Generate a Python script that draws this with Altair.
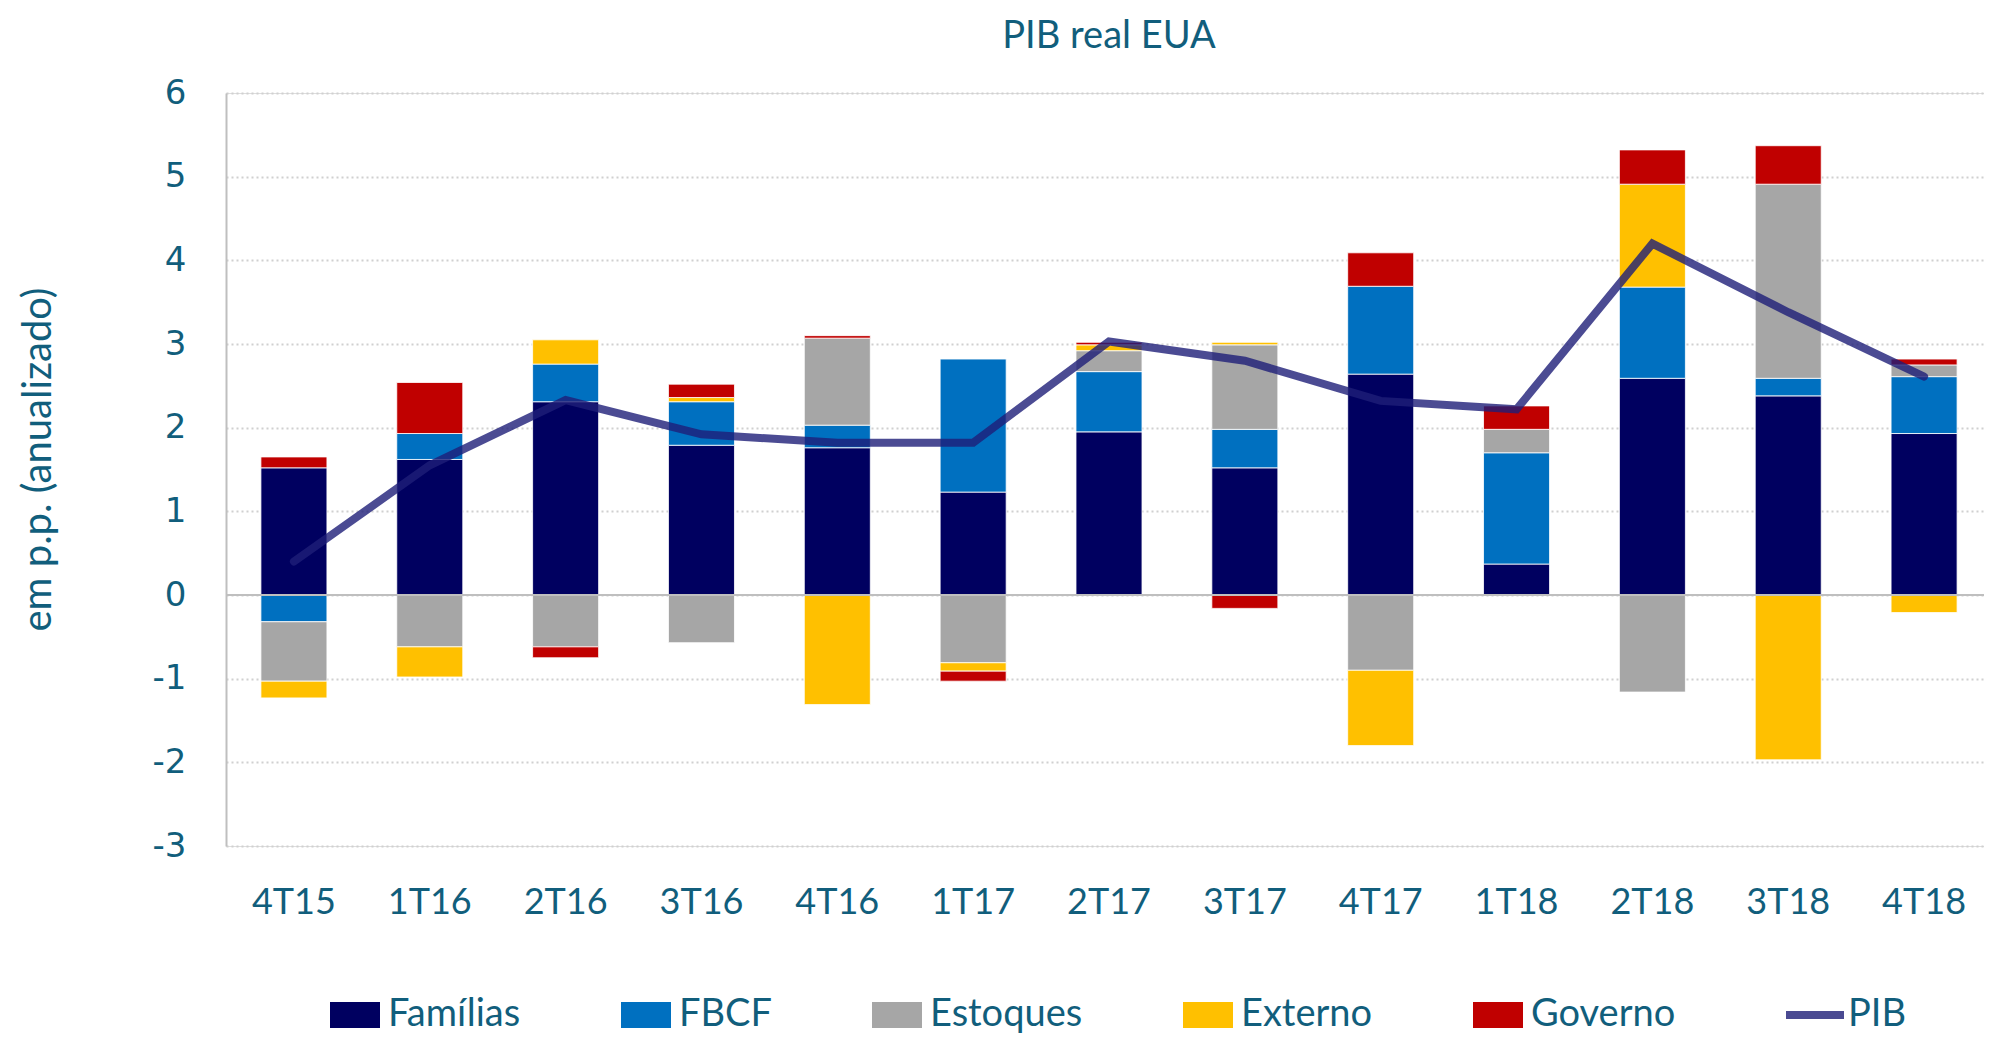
import altair as alt
import pandas as pd

trimestres = ["4T15", "1T16", "2T16", "3T16", "4T16", "1T17", "2T17",
              "3T17", "4T17", "1T18", "2T18", "3T18", "4T18"]
familias = [1.52, 1.62, 2.31, 1.79, 1.76, 1.23, 1.95, 1.52, 2.64, 0.37, 2.59, 2.38, 1.93]
fbcf = [-0.32, 0.31, 0.45, 0.52, 0.27, 1.59, 0.72, 0.46, 1.05, 1.33, 1.09, 0.21, 0.68]
estoques = [-0.71, -0.62, -0.62, -0.57, 1.04, -0.81, 0.25, 1.01, -0.90, 0.28, -1.16, 2.32, 0.14]
externo = [-0.20, -0.36, 0.29, 0.05, -1.31, -0.10, 0.07, 0.03, -0.90, 0.00, 1.23, -1.97, -0.21]
governo = [0.13, 0.61, -0.13, 0.16, 0.03, -0.12, 0.03, -0.16, 0.40, 0.28, 0.41, 0.46, 0.07]
pib = [0.40, 1.55, 2.33, 1.92, 1.82, 1.82, 3.03, 2.80, 2.32, 2.22, 4.20, 3.38, 2.61]

series = ["Famílias", "FBCF", "Estoques", "Externo", "Governo"]
cores = ["#000060", "#0070C0", "#A6A6A6", "#FFC000", "#C00000"]
cor_pib = "#1E1E78"

TEAL = "#115E7C"

rows = []
for k, (nome, vals) in enumerate(zip(series, [familias, fbcf, estoques, externo, governo])):
    for t, v in zip(trimestres, vals):
        if v != 0:
            rows.append({"tri": t, "serie": nome, "valor": v, "ordem": k})
df_bar = pd.DataFrame(rows)
df_pib = pd.DataFrame({"tri": trimestres, "pib": pib, "serie": ["PIB"] * len(trimestres)})
df_zero = pd.DataFrame({"y": [0]})

xenc = alt.X("tri:N", sort=trimestres,
             scale=alt.Scale(paddingInner=0.514, paddingOuter=0.257),
             axis=alt.Axis(title=None, domain=False, ticks=False, labelAngle=0,
                           labelFont="Lato", labelFontSize=36, labelColor=TEAL,
                           labelPadding=39, grid=False))
yscale = alt.Scale(domain=[-3, 6], nice=False, zero=False)

bars = alt.Chart(df_bar).mark_bar(stroke="#ffffff", strokeWidth=0.8).encode(
    x=xenc,
    y=alt.Y("valor:Q", stack="zero", scale=yscale,
            axis=alt.Axis(title="em p.p. (anualizado)", values=list(range(-3, 7)),
                          labelExpr="datum.value + ''",
                          labelFont="DejaVu Sans", labelFontSize=34, labelColor=TEAL,
                          labelPadding=40, ticks=False,
                          domain=True, domainColor="#BFBFBF", domainWidth=2,
                          grid=True, gridColor="#D0D0D0", gridWidth=2, gridDash=[2, 3],
                          titleFont="Lato", titleFontSize=40, titleFontWeight="normal",
                          titleColor=TEAL, titleAngle=-90, titleX=-188, titleY=366,
                          titleAlign="center", titleBaseline="middle")),
    color=alt.Color("serie:N", scale=alt.Scale(domain=series, range=cores),
                    legend=alt.Legend(title=None, orient="none", direction="horizontal",
                                      legendX=104, legendY=897,
                                      symbolType="M-1,-0.52H1V0.52H-1Z",
                                      symbolSize=2500, symbolStrokeWidth=0,
                                      labelFont="Lato", labelFontSize=38, labelColor=TEAL,
                                      labelOffset=8, columnPadding=100, labelLimit=400)),
    order=alt.Order("ordem:Q"),
)

zero = alt.Chart(df_zero).mark_rule(color="#BFBFBF", strokeWidth=2).encode(
    y=alt.Y("y:Q", scale=yscale))

line = alt.Chart(df_pib).mark_line(strokeWidth=8, opacity=0.8,
                                   strokeCap="round").encode(
    x=alt.X("tri:N", sort=trimestres),
    y=alt.Y("pib:Q", scale=yscale),
    stroke=alt.Stroke("serie:N", scale=alt.Scale(domain=["PIB"], range=[cor_pib]),
                      legend=alt.Legend(title=None, orient="none", direction="horizontal",
                                        legendX=1556, legendY=889,
                                        symbolType="stroke", symbolSize=3364,
                                        symbolStrokeWidth=8, symbolOpacity=0.8,
                                        labelFont="Lato", labelFontSize=38, labelColor=TEAL,
                                        labelOffset=0, labelLimit=400)),
)

chart = alt.layer(bars, zero, line).resolve_legend(color="independent", stroke="independent").properties(
    width=1766, height=753,
    autosize=alt.AutoSizeParams(type="none"),
    padding={"left": 218, "top": 85, "right": -8, "bottom": 188},
    title=alt.TitleParams("PIB real EUA", font="Lato", fontSize=38, fontWeight="normal",
                          color=TEAL, anchor="middle", offset=20),
).configure_view(stroke=None).configure(background="white")

chart.save("out.html", embed_options={"renderer": "svg", "actions": False})
